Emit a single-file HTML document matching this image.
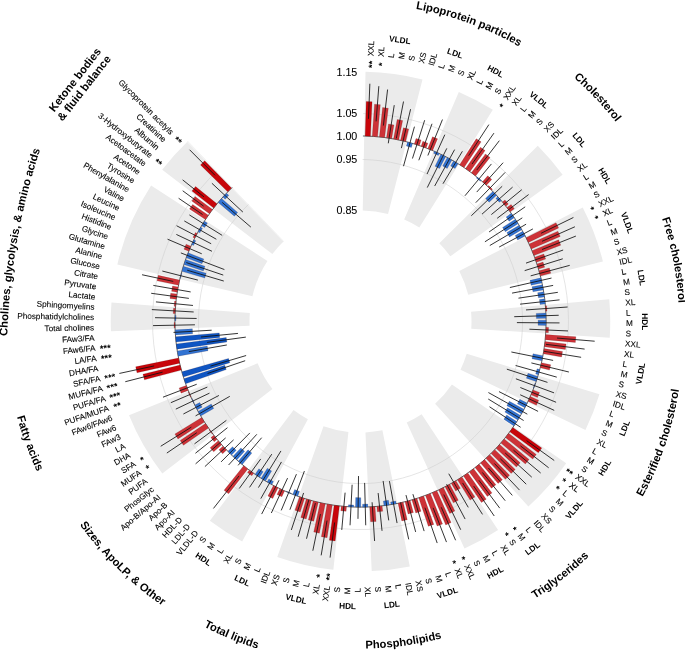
<!DOCTYPE html>
<html><head><meta charset="utf-8"><title>Circular forest plot</title>
<style>html,body{margin:0;padding:0;background:#fff}svg{display:block}text{font-family:"Liberation Sans",sans-serif;fill:#000}.l{font-size:8.2px;stroke:#000;stroke-width:0.1px}.s{font-size:8.3px;font-weight:bold}.t{font-size:11.2px;font-weight:bold}.a{font-size:10.7px;stroke:#000;stroke-width:0.08px}.st{font-size:9.4px;font-weight:bold}</style></head><body>
<svg width="685" height="650" viewBox="0 0 685 650">
<rect width="685" height="650" fill="#fff"/>
<path d="M362.73 210.57L365.51 71.85A249.75 249.75 0 0 1 422.49 79.61L388.05 214.02A111 111 0 0 0 362.73 210.57ZM404.2 219.51L458.83 91.97A249.75 249.75 0 0 1 492.84 109.75L419.32 227.41A111 111 0 0 0 404.2 219.51ZM439.29 243.36L537.78 145.63A249.75 249.75 0 0 1 562.64 174.87L450.34 256.36A111 111 0 0 0 439.29 243.36ZM459.27 270.89L582.73 207.58A249.75 249.75 0 0 1 602.9 261.42L468.24 294.83A111 111 0 0 0 459.27 270.89ZM471.06 311.65L609.26 299.27A249.75 249.75 0 0 1 609.73 337.65L471.27 328.71A111 111 0 0 0 471.06 311.65ZM466.7 353.85L599.44 394.23A249.75 249.75 0 0 1 585.48 429.98L460.5 369.74A111 111 0 0 0 466.7 353.85ZM451.93 384.5L566.21 463.18A249.75 249.75 0 0 1 528.37 506.47L435.11 403.74A111 111 0 0 0 451.93 384.5ZM421.64 414.2L498.05 530.01A249.75 249.75 0 0 1 464.49 548.62L406.72 422.47A111 111 0 0 0 421.64 414.2ZM382.41 430.37L409.8 566.39A249.75 249.75 0 0 1 371.7 571.05L365.48 432.44A111 111 0 0 0 382.41 430.37ZM348.43 431.9L333.34 569.82A249.75 249.75 0 0 1 277.28 557.03L323.51 426.21A111 111 0 0 0 348.43 431.9ZM307.91 419.31L242.18 541.49A249.75 249.75 0 0 1 209.87 520.77L293.55 410.09A111 111 0 0 0 307.91 419.31ZM272.41 389.1L162.31 473.53A249.75 249.75 0 0 1 129.03 415.34L257.62 363.24A111 111 0 0 0 272.41 389.1ZM249.58 325.86L110.94 331.25A249.75 249.75 0 0 1 111.48 302.46L249.82 313.06A111 111 0 0 0 249.58 325.86ZM252.43 296.21L117.35 264.53A249.75 249.75 0 0 1 151.11 185.42L267.44 261.05A111 111 0 0 0 252.43 296.21ZM272.36 254.07L162.19 169.73A249.75 249.75 0 0 1 187.8 141.14L283.74 241.36A111 111 0 0 0 272.36 254.07Z" fill="#ebebeb"/>
<path d="M283.32 241.77L186.85 142.04A249.75 249.75 0 0 1 187.95 140.99L283.81 241.3A111 111 0 0 0 283.32 241.77Z" fill="#f3f3f3"/>
<path d="M363.22 113.57A207.99 207.99 0 1 1 216.67 171.3M362.62 159.51A162.06 162.06 0 1 1 248.44 204.49" fill="none" stroke="#cbcbcb" stroke-width="0.5"/>
<path d="M362.93 135.97A185.6 185.6 0 1 1 232.16 187.48" fill="none" stroke="#222" stroke-width="0.7"/>
<path d="M365.14 136.01L366.23 101.42L372.08 101.65L370.44 136.22ZM512.85 427.55L541.78 447.95L538.36 452.72L509.76 431.86ZM339.4 505.95L335.18 540.89L329.36 540.14L334.14 505.27ZM181.36 370.1L144.43 379.86L142.97 374.13L180.05 364.96ZM179.63 363.18L136.98 372.71L135.72 366.84L178.51 357.99ZM213.69 208L191.96 190.98L195.54 186.49L216.99 203.85ZM227.74 191.85L200.51 164.92L204.7 160.75L231.49 188.12Z" fill="#c8050a" stroke="rgba(40,0,0,0.45)" stroke-width="0.35"/>
<path d="M372.27 136.32L374.52 104.2L380.32 104.65L377.56 136.74ZM379.39 136.91L382.58 107.49L388.32 108.16L384.65 137.53ZM386.47 137.78L388.5 124.03L393.96 124.88L391.71 138.59ZM393.52 138.91L397.16 119.45L402.68 120.53L398.72 139.93ZM400.52 140.32L403.36 127.83L408.71 129.1L405.68 141.53ZM414.32 143.93L416.01 138.48L421.15 140.12L419.37 145.54ZM421.11 146.13L422.81 141.32L427.87 143.15L426.1 147.93ZM427.81 148.59L432.49 136.78L437.59 138.85L432.73 150.58ZM459.63 164.64L476.24 138.7L481.09 141.87L464.07 167.53ZM465.59 168.57L480.39 147.31L485.05 150.61L469.91 171.63ZM471.39 172.72L485.55 153.96L490.05 157.42L475.6 175.95ZM482.5 181.68L487.73 175.76L491.77 179.39L486.44 185.22ZM487.79 186.48L488.62 185.61L492.44 189.31L491.59 190.17ZM502.49 202.03L504.95 199.98L508.34 204.12L505.85 206.13ZM506.98 207.57L511.11 204.41L514.35 208.7L510.18 211.8ZM526.06 237.67L556.04 222.72L558.61 227.96L528.39 242.43ZM529.17 244.1L557.88 231.13L560.22 236.44L531.31 248.94ZM532.02 250.64L558.61 239.84L560.74 245.19L533.97 255.57ZM534.62 257.29L543.83 253.95L545.65 259.1L536.38 262.28ZM536.96 264.03L543.06 262.08L544.66 267.24L538.53 269.09ZM539.04 270.86L549.35 268L550.77 273.28L540.42 275.97ZM545.44 305.91L546.64 305.82L547.01 311.12L545.81 311.2ZM546.01 327.31L548.61 327.4L548.37 332.74L545.77 332.6ZM545.65 334.43L575.87 336.73L575.38 342.49L545.21 339.72ZM545.02 341.54L566.08 343.96L565.39 349.56L544.37 346.8ZM544.11 348.62L562.5 351.45L561.6 356.98L543.27 353.86ZM541.49 362.65L550.74 364.81L549.46 370.11L540.24 367.8ZM533.06 389.9L539.55 392.52L537.48 397.52L531.03 394.8ZM530.3 396.48L538.69 400.25L536.42 405.2L528.09 401.3ZM508.66 433.33L536.31 454.47L532.72 459.09L505.41 437.52ZM504.25 438.95L529.07 459.47L525.32 463.92L500.84 443ZM499.63 444.39L520.21 462.78L516.35 467.03L496.07 448.31ZM494.81 449.65L515.24 469.38L511.21 473.48L491.1 453.43ZM489.78 454.72L509.58 475.36L505.39 479.31L485.93 458.35ZM484.57 459.59L502.42 479.71L498.11 483.48L480.58 463.07ZM479.17 464.26L495.92 484.66L491.47 488.26L475.05 467.59ZM473.59 468.71L491.97 492.93L487.33 496.39L469.35 471.88ZM467.85 472.95L486.2 499.17L481.41 502.47L463.49 475.96ZM461.95 476.97L474.89 497.06L470.09 500.1L457.47 479.8ZM455.9 480.75L460.38 488.33L455.67 491.06L451.32 483.41ZM449.71 484.3L458.31 500.23L453.37 502.85L445.03 486.79ZM443.39 487.61L454.85 510.95L449.7 513.43L438.61 489.91ZM436.94 490.68L451.11 522.57L445.74 524.91L432.08 492.79ZM430.38 493.49L442.54 523.96L437.11 526.07L425.44 495.42ZM423.72 496.05L433.79 524.42L428.33 526.31L418.71 497.79ZM416.96 498.35L421.02 511.33L415.74 512.94L411.89 499.89ZM410.12 500.39L413.41 512.56L408.09 513.95L405 501.74ZM403.21 502.17L407.24 519.71L401.79 520.92L398.03 503.31ZM382.13 505.88L382.73 511.25L377.37 511.8L376.86 506.43ZM375.03 506.58L376.1 521.44L370.58 521.8L369.74 506.92ZM346.51 506.62L346.12 511.31L340.77 510.82L341.23 506.15ZM332.33 505L327.1 537.68L321.35 536.72L327.1 504.12ZM325.29 503.78L319.42 533.2L313.76 532.02L320.1 502.7ZM318.31 502.29L313.76 521.25L308.32 519.9L313.17 501.01ZM311.39 500.54L306.2 519.02L300.81 517.46L306.3 499.06ZM304.55 498.52L300.21 511.93L294.97 510.19L299.52 496.85ZM284.55 490.9L281.89 496.72L277 494.44L279.74 488.66ZM278.09 487.85L272.74 498.48L267.86 495.97L273.38 485.43ZM253.59 473.26L251.84 475.7L247.51 472.56L249.3 470.15ZM247.83 469.04L228.61 493.87L224.05 490.28L243.67 465.76ZM226.56 450.03L222.64 453.75L218.97 449.81L222.95 446.16ZM221.72 444.79L213.68 451.84L210.1 447.7L218.26 440.78ZM217.09 439.36L214.21 441.69L210.87 437.5L213.78 435.22ZM212.66 433.76L212.18 434.12L209.03 429.85L209.52 429.49ZM208.46 427.99L183.44 445.27L180.19 440.48L205.48 423.61ZM204.48 422.07L177.97 438.91L174.9 433.99L201.67 417.57ZM190.92 396.97L190.46 397.18L188.37 392.29L188.83 392.1ZM188.14 390.4L181.07 393.17L179.13 388.11L186.25 385.45ZM175.01 327.84L174.11 327.87L174 322.55L174.9 322.54ZM175.07 313.57L173.17 313.48L173.48 308.16L175.38 308.28ZM175.52 306.45L174.12 306.32L174.63 301.03L176.02 301.17ZM176.23 299.35L169.98 298.55L170.71 293.2L176.94 294.09ZM177.22 292.28L171.6 291.34L172.53 286.03L178.13 287.06ZM178.48 285.25L157.03 280.83L158.22 275.31L179.59 280.07ZM188.78 251.14L183.98 249.13L186.09 244.18L190.86 246.26ZM194.69 238.15L193 237.28L195.47 232.56L197.14 233.45ZM205.4 219.62L189.5 209.03L192.65 204.39L208.37 215.23ZM209.43 213.73L191.77 200.95L195.11 196.4L212.57 209.46Z" fill="#cd3237" stroke="rgba(40,0,0,0.45)" stroke-width="0.35"/>
<path d="M406.37 146.04L407.46 141.99L412.56 143.4L411.41 147.44ZM433.53 153.32L434.41 151.3L439.25 153.48L438.32 155.48ZM435.02 166.31L440.91 154.27L445.65 156.64L439.58 168.58ZM442.69 166.03L447.28 157.49L451.93 160.03L447.2 168.5ZM450.58 165.94L453.52 160.94L458.07 163.67L455.05 168.62ZM476.34 177.95L477.03 177.09L481.11 180.48L480.4 181.32ZM485.57 198.57L492.89 191.47L496.55 195.3L489.11 202.29ZM495.86 198.39L497.79 196.66L501.3 200.63L499.34 202.33ZM506.12 216.93L511.26 213.29L514.29 217.64L509.09 221.2ZM502.58 227.47L515.31 219.17L518.17 223.63L505.31 231.73ZM506.86 232.54L519.13 225.2L521.82 229.76L509.43 236.91ZM515.17 235.5L522.72 231.37L525.23 236.03L517.62 240.04ZM529.96 280.33L540.86 277.76L542.04 282.93L531.1 285.33ZM532.01 286.76L542.41 284.73L543.39 289.93L532.95 291.81ZM537.66 292.69L543.69 291.75L544.47 296.99L538.43 297.83ZM539.44 299.43L544.7 298.81L545.28 304.08L540 304.61ZM536.21 313.42L545.9 313.03L546.07 318.33L536.37 318.56ZM538.09 320.18L546.09 320.17L546.06 325.47L538.06 325.35ZM533.02 353.74L542.94 355.66L541.89 360.86L532.01 358.78ZM537.08 368.84L539.78 369.58L538.33 374.68L535.65 373.9ZM527.98 373.33L537.8 376.44L536.16 381.48L526.39 378.21ZM535.09 383.05L535.56 383.21L533.72 388.19L533.26 388.01ZM519.77 399.23L527.29 402.96L524.9 407.69L517.44 403.83ZM509.29 401.27L524.04 409.31L521.47 413.94L506.85 405.67ZM507.49 407.75L520.55 415.53L517.8 420.06L504.86 412.08ZM506.66 415.03L516.81 421.62L513.89 426.04L503.85 419.29ZM395.75 501.12L396.23 503.68L391.02 504.62L390.57 502.06ZM388.51 500.27L389.2 504.92L383.96 505.66L383.33 501ZM367.8 504L367.9 507L362.61 507.14L362.55 504.14ZM360.81 497.65L360.77 507.15L355.47 507.08L355.67 497.58ZM353.71 505.12L353.63 507.02L348.34 506.75L348.45 504.85ZM299.54 491.44L297.79 496.23L292.82 494.37L294.65 489.61ZM291.31 493.23L291.12 493.69L286.23 491.64L286.43 491.18ZM273.45 481.5L271.76 484.56L267.14 481.96L268.88 478.93ZM271.66 470.93L265.56 481.03L261.04 478.25L267.3 468.25ZM263.18 471.66L259.5 477.26L255.09 474.31L258.86 468.77ZM251.87 453.1L242.24 464.6L238.21 461.16L248.02 449.82ZM244.61 451.34L236.83 459.95L232.93 456.36L240.85 447.88ZM236.21 450.37L231.6 455.09L227.84 451.35L232.53 446.71ZM213.77 408.39L200.73 416L198.1 411.4L211.26 404ZM202.16 407.15L197.21 409.78L194.76 405.08L199.75 402.53ZM194.39 403.22L193.94 403.44L191.67 398.65L192.13 398.44ZM208.06 350.7L178.16 356.19L177.25 350.97L207.23 345.96ZM192.65 333.83L175.39 334.97L175.08 329.68L192.36 328.81ZM176 320.72L174.9 320.71L175 315.41L176.1 315.44ZM180.5 278.4L180.01 278.28L181.32 273.14L181.81 273.27ZM204.78 277.98L181.81 271.37L183.32 266.29L206.18 273.26ZM203.34 270.96L183.87 264.54L185.57 259.52L204.94 266.25ZM202.03 263.7L186.2 257.79L188.09 252.84L203.83 259ZM193.52 245.47L191.61 244.59L193.88 239.79L195.77 240.71ZM199.86 232.86L198.02 231.84L200.65 227.23L202.47 228.29ZM204.66 227.53L201.59 225.65L204.4 221.16L207.44 223.08ZM234.41 216.21L218.16 202.44L221.62 198.42L237.65 212.45ZM225.21 199.21L222.85 197.05L226.46 193.17L228.78 195.37Z" fill="#3273d2" stroke="rgba(40,0,0,0.45)" stroke-width="0.35"/>
<path d="M226.23 369.57L185.62 383.72L183.92 378.7L224.75 365.2ZM229.84 362.74L183.36 376.95L181.85 371.87L228.55 358.4ZM226.85 341.97L176.96 349.15L176.25 343.9L226.25 337.52ZM219.7 337.5L176.04 342.08L175.53 336.8L219.26 332.92Z" fill="#0f55c3" stroke="rgba(40,0,0,0.45)" stroke-width="0.35"/>
<path d="M368.47 118.81L369.85 83.73M376.1 121.36L378.84 86.16M383.38 125.58L387.59 89.53M388.29 143.3L394.24 105.16M396.32 138.42L403.53 101.52M401.4 148.11L410.58 109.18M403.5 166.19L414.44 126.68M412.45 158.53L424.66 120.23M418.82 160.27L432.01 123.78M427.87 155.5L442.46 119.54M427.05 174.07L444.82 134.69M427.27 187.57L446.81 148.37M434.68 186.02L454.61 149.62M442.97 183.74L462.38 151.31M468.63 155.68L488.89 124.6M472.04 164.04L493.94 133.11M476.79 170.04L499.32 140.68M464.96 195.77L491.41 163.93M476.74 192.07L503.12 162.68M475.78 202.66L505.16 172.37M471.3 215.75L502.18 186.26M482.03 214.13L512.6 187.11M491.33 214.57L521.76 189.7M497.18 218.3L528.62 194.55M489.07 231.97L525.18 206.82M484.93 241.79L522.31 217.83M489.8 245.52L526.09 224.18M499.15 247.04L532.88 228.91M541.08 233.28L573.42 217.47M542.05 241.3L574.89 226.78M542.03 249.52L575.86 236.09M526 263.14L563.15 250.03M524.68 270.61L562.79 258.79M530.67 275.85L569.69 265.37M509.88 287.53L551.51 278.05M512.06 293.12L553.14 285.41M518.48 298.16L557.85 292.33M520.06 304.16L559.52 299.86M525.99 309.93L567.59 307.01M514.22 316.69L558.7 315.28M516.9 322.62L559.5 322.91M529.43 329.21L567.99 330.95M557.01 338.05L594.68 341.21M546.01 344.33L584.62 349.08M543.91 351.27L581.12 357.31M511.36 351.99L553.12 360.42M531.36 362.93L568.88 372.01M515.6 365.49L556.78 377.15M506.85 369.16L547.46 382.37M515.89 378.79L554.08 392.86M520.32 387.51L556.1 402.28M520.21 394.77L554.21 410.36M498.99 391.61L538.07 411.38M488.41 392.56L527.32 414.16M488.24 399.03L523.63 420.51M489.5 406.75L520.63 427.31M526.6 440.67L554.23 460.49M520.47 445.87L548.66 467.77M513.51 450.19L540.68 473.03M505.19 453.02L531.76 477.16M500.39 458.83L526.23 484.19M494.46 463.53L519.51 490.08M488.44 468.05L512.32 495.39M482.4 472.47L505.21 500.71M478.9 480.25L499.71 508.14M473.61 486L494.24 516M462.61 482.96L482.5 514.4M448.75 473.71L468.27 507.36M446.63 484.15L465.12 519.05M443.78 494.55L460.7 529.69M441.26 507.25L455.61 540.26M433.15 507.89L446.48 542.08M424.95 507.71L437.19 543.05M412.92 494.17L424.14 531.1M405.99 495.09L415.65 531.94M400.56 502.47L408.73 539.37M389.45 481.15L397.06 523.06M383.13 480.95L388.72 520.36M378.15 493.04L382.04 530.84M372.1 502.28L374.58 541M364.64 482.9L365.72 525.28M358.52 476.04L357.97 518.83M352.12 484.74L350.04 525.28M345.1 492.66L341.75 529.91M334.6 522.49L330.07 557.6M327.02 520.55L321.17 555.36M320.45 514.03L312.82 550.74M315.38 503.13L306.52 538.74M308.76 500.1L298.16 536.7M303.6 492.95L291.32 529.97M304.4 471.07L289.89 509.74M296.45 474.15L281.23 510.39M287.59 478.1L271.33 513M279.02 480.25L261.66 514.06M281.46 461.93L260.81 498.61M280.94 450.95L258.42 487.58M271.8 454.11L249.55 487.36M260.72 458.94L239.21 488.55M239.06 475.9L213.46 508.44M261.67 437.69L238.14 465.33M256.8 434.32L228.57 465.01M249.86 432.94L221.11 461.89M233.59 439.86L204.92 466.59M225.65 437.9L195.6 463.83M227.46 427.7L195.41 453.27M226.37 420.37L194.49 443.86M196.78 432.72L166.83 453.06M191.35 427.14L160.73 446.25M229.78 396.33L195.58 415.89M218.93 395.46L183.38 414.01M209.51 393.13L175.8 409.11M207.33 387.07L170.83 402.69M196.7 384.28L162.99 397.19M245.17 360.71L207.57 373.47M246.14 355.53L210.48 366.13M162.57 372.17L125.27 381.71M154.12 365.95L119.32 373.44M226.84 344.97L188.82 351.63M245.85 337.12L207.11 342.39M237.97 333.42L200.95 337M211.65 330.21L173.52 332.42M194.93 324.8L153.04 325.62M196.63 318.46L155.04 317.68M193.67 311.98L151.84 309.58M192.97 305.46L155.94 301.9M188.86 298.38L151.2 293.29M190.66 291.93L153.33 285.42M173.25 281.42L142.06 274.74M197.9 280.1L162.34 271.04M223.77 281.04L187.15 270.19M223.25 275.08L186.31 262.57M224.4 269.55L180.86 252.92M201.76 253.79L167.54 239.19M211.98 251.29L176.36 234.44M211.16 243.74L176.57 225.72M216.34 239.24L184.3 220.95M222.16 235.35L189.4 214.93M202.56 214.49L178.64 198.28M203.58 206.13L182.71 190.78M203.98 196.88L182.63 179.87M250.87 227.11L222.15 202.38M242.87 212.07L211.9 183.25M215.07 175.37L189.61 149.77" fill="none" stroke="#111" stroke-width="0.85"/>
<text class="a" x="357.3" y="71.8" text-anchor="end" dy="0.36em">1.15</text>
<text class="a" x="357.3" y="113.56" text-anchor="end" dy="0.36em">1.05</text>
<text class="a" x="357.3" y="135.95" text-anchor="end" dy="0.36em">1.00</text>
<text class="a" x="357.3" y="159.49" text-anchor="end" dy="0.36em">0.95</text>
<text class="a" x="357.3" y="210.55" text-anchor="end" dy="0.36em">0.85</text>
<text class="l" transform="translate(370.93 56.26) rotate(-87.75)" text-anchor="start" dy="2.55">XXL</text>
<text class="st" transform="translate(370.61 64.45) rotate(-87.75)" text-anchor="middle" dy="4.6">**</text>
<text class="l" transform="translate(381.12 56.85) rotate(-85.54)" text-anchor="start" dy="2.55">XL</text>
<text class="st" transform="translate(380.54 64.33) rotate(-85.54)" text-anchor="middle" dy="4.6">*</text>
<text class="l" transform="translate(391.29 57.84) rotate(-83.34)" text-anchor="start" dy="2.55">L</text>
<text class="l" transform="translate(401.4 59.22) rotate(-81.14)" text-anchor="start" dy="2.55">M</text>
<text class="l" transform="translate(411.46 60.99) rotate(-78.93)" text-anchor="start" dy="2.55">S</text>
<text class="l" transform="translate(421.44 63.14) rotate(-76.73)" text-anchor="start" dy="2.55">XS</text>
<text class="l" transform="translate(431.33 65.67) rotate(-74.53)" text-anchor="start" dy="2.55">IDL</text>
<text class="l" transform="translate(441.12 68.58) rotate(-72.32)" text-anchor="start" dy="2.55">L</text>
<text class="l" transform="translate(450.78 71.87) rotate(-70.12)" text-anchor="start" dy="2.55">M</text>
<text class="l" transform="translate(460.32 75.53) rotate(-67.92)" text-anchor="start" dy="2.55">S</text>
<text class="l" transform="translate(469.7 79.55) rotate(-65.71)" text-anchor="start" dy="2.55">XL</text>
<text class="l" transform="translate(478.93 83.92) rotate(-63.51)" text-anchor="start" dy="2.55">L</text>
<text class="l" transform="translate(487.97 88.65) rotate(-61.31)" text-anchor="start" dy="2.55">M</text>
<text class="l" transform="translate(496.83 93.73) rotate(-59.1)" text-anchor="start" dy="2.55">S</text>
<text class="l" transform="translate(505.49 99.14) rotate(-56.9)" text-anchor="start" dy="2.55">XXL</text>
<text class="st" transform="translate(501.4 105.42) rotate(-56.9)" text-anchor="middle" dy="4.6">*</text>
<text class="l" transform="translate(513.94 104.88) rotate(-54.7)" text-anchor="start" dy="2.55">XL</text>
<text class="l" transform="translate(522.15 110.94) rotate(-52.49)" text-anchor="start" dy="2.55">L</text>
<text class="l" transform="translate(530.13 117.31) rotate(-50.29)" text-anchor="start" dy="2.55">M</text>
<text class="l" transform="translate(537.86 123.98) rotate(-48.09)" text-anchor="start" dy="2.55">S</text>
<text class="l" transform="translate(545.33 130.95) rotate(-45.88)" text-anchor="start" dy="2.55">XS</text>
<text class="l" transform="translate(552.52 138.19) rotate(-43.68)" text-anchor="start" dy="2.55">IDL</text>
<text class="l" transform="translate(559.43 145.71) rotate(-41.47)" text-anchor="start" dy="2.55">L</text>
<text class="l" transform="translate(566.04 153.49) rotate(-39.27)" text-anchor="start" dy="2.55">M</text>
<text class="l" transform="translate(572.35 161.52) rotate(-37.07)" text-anchor="start" dy="2.55">S</text>
<text class="l" transform="translate(578.35 169.78) rotate(-34.86)" text-anchor="start" dy="2.55">XL</text>
<text class="l" transform="translate(584.02 178.27) rotate(-32.66)" text-anchor="start" dy="2.55">L</text>
<text class="l" transform="translate(589.36 186.97) rotate(-30.46)" text-anchor="start" dy="2.55">M</text>
<text class="l" transform="translate(594.37 195.87) rotate(-28.25)" text-anchor="start" dy="2.55">S</text>
<text class="l" transform="translate(599.03 204.95) rotate(-26.05)" text-anchor="start" dy="2.55">XXL</text>
<text class="st" transform="translate(592.29 208.25) rotate(-26.05)" text-anchor="middle" dy="4.6">*</text>
<text class="l" transform="translate(603.33 214.21) rotate(-23.85)" text-anchor="start" dy="2.55">XL</text>
<text class="st" transform="translate(596.47 217.24) rotate(-23.85)" text-anchor="middle" dy="4.6">*</text>
<text class="l" transform="translate(607.28 223.63) rotate(-21.64)" text-anchor="start" dy="2.55">L</text>
<text class="l" transform="translate(610.86 233.19) rotate(-19.44)" text-anchor="start" dy="2.55">M</text>
<text class="l" transform="translate(614.08 242.88) rotate(-17.24)" text-anchor="start" dy="2.55">S</text>
<text class="l" transform="translate(616.91 252.69) rotate(-15.03)" text-anchor="start" dy="2.55">XS</text>
<text class="l" transform="translate(619.37 262.6) rotate(-12.83)" text-anchor="start" dy="2.55">IDL</text>
<text class="l" transform="translate(621.45 272.59) rotate(-10.63)" text-anchor="start" dy="2.55">L</text>
<text class="l" transform="translate(623.14 282.66) rotate(-8.42)" text-anchor="start" dy="2.55">M</text>
<text class="l" transform="translate(624.44 292.79) rotate(-6.22)" text-anchor="start" dy="2.55">S</text>
<text class="l" transform="translate(625.35 302.96) rotate(-4.02)" text-anchor="start" dy="2.55">XL</text>
<text class="l" transform="translate(625.87 313.16) rotate(-1.81)" text-anchor="start" dy="2.55">L</text>
<text class="l" transform="translate(625.99 323.37) rotate(0.39)" text-anchor="start" dy="2.55">M</text>
<text class="l" transform="translate(625.73 333.57) rotate(2.6)" text-anchor="start" dy="2.55">S</text>
<text class="l" transform="translate(625.07 343.76) rotate(4.8)" text-anchor="start" dy="2.55">XXL</text>
<text class="l" transform="translate(624.02 353.92) rotate(7)" text-anchor="start" dy="2.55">XL</text>
<text class="l" transform="translate(622.58 364.02) rotate(9.21)" text-anchor="start" dy="2.55">L</text>
<text class="l" transform="translate(620.75 374.07) rotate(11.41)" text-anchor="start" dy="2.55">M</text>
<text class="l" transform="translate(618.54 384.04) rotate(13.61)" text-anchor="start" dy="2.55">S</text>
<text class="l" transform="translate(615.95 393.91) rotate(15.82)" text-anchor="start" dy="2.55">XS</text>
<text class="l" transform="translate(612.98 403.68) rotate(18.02)" text-anchor="start" dy="2.55">IDL</text>
<text class="l" transform="translate(609.63 413.33) rotate(20.22)" text-anchor="start" dy="2.55">L</text>
<text class="l" transform="translate(605.92 422.84) rotate(22.43)" text-anchor="start" dy="2.55">M</text>
<text class="l" transform="translate(601.84 432.2) rotate(24.63)" text-anchor="start" dy="2.55">S</text>
<text class="l" transform="translate(597.41 441.4) rotate(26.83)" text-anchor="start" dy="2.55">XL</text>
<text class="l" transform="translate(592.63 450.42) rotate(29.04)" text-anchor="start" dy="2.55">L</text>
<text class="l" transform="translate(587.5 459.25) rotate(31.24)" text-anchor="start" dy="2.55">M</text>
<text class="l" transform="translate(582.04 467.87) rotate(33.44)" text-anchor="start" dy="2.55">S</text>
<text class="l" transform="translate(576.25 476.28) rotate(35.65)" text-anchor="start" dy="2.55">XXL</text>
<text class="st" transform="translate(569.59 471.5) rotate(35.65)" text-anchor="middle" dy="4.6">**</text>
<text class="l" transform="translate(570.14 484.46) rotate(37.85)" text-anchor="start" dy="2.55">XL</text>
<text class="st" transform="translate(564.22 479.86) rotate(37.85)" text-anchor="middle" dy="4.6">*</text>
<text class="l" transform="translate(563.72 492.4) rotate(40.05)" text-anchor="start" dy="2.55">L</text>
<text class="st" transform="translate(557.98 487.58) rotate(40.05)" text-anchor="middle" dy="4.6">*</text>
<text class="l" transform="translate(557 500.09) rotate(42.26)" text-anchor="start" dy="2.55">M</text>
<text class="l" transform="translate(549.99 507.51) rotate(44.46)" text-anchor="start" dy="2.55">S</text>
<text class="l" transform="translate(542.7 514.66) rotate(46.67)" text-anchor="start" dy="2.55">XS</text>
<text class="l" transform="translate(535.14 521.53) rotate(48.87)" text-anchor="start" dy="2.55">IDL</text>
<text class="l" transform="translate(527.32 528.09) rotate(51.07)" text-anchor="start" dy="2.55">L</text>
<text class="l" transform="translate(519.26 534.35) rotate(53.28)" text-anchor="start" dy="2.55">M</text>
<text class="st" transform="translate(514.77 528.34) rotate(53.28)" text-anchor="middle" dy="4.6">*</text>
<text class="l" transform="translate(510.96 540.3) rotate(55.48)" text-anchor="start" dy="2.55">S</text>
<text class="st" transform="translate(506.71 534.12) rotate(55.48)" text-anchor="middle" dy="4.6">*</text>
<text class="l" transform="translate(502.44 545.92) rotate(57.68)" text-anchor="start" dy="2.55">XL</text>
<text class="l" transform="translate(493.71 551.22) rotate(59.89)" text-anchor="start" dy="2.55">L</text>
<text class="l" transform="translate(484.78 556.17) rotate(62.09)" text-anchor="start" dy="2.55">M</text>
<text class="l" transform="translate(475.66 560.77) rotate(64.29)" text-anchor="start" dy="2.55">S</text>
<text class="l" transform="translate(466.38 565.02) rotate(66.5)" text-anchor="start" dy="2.55">XXL</text>
<text class="st" transform="translate(463.39 558.15) rotate(66.5)" text-anchor="middle" dy="4.6">*</text>
<text class="l" transform="translate(456.94 568.91) rotate(68.7)" text-anchor="start" dy="2.55">XL</text>
<text class="st" transform="translate(454.22 561.93) rotate(68.7)" text-anchor="middle" dy="4.6">*</text>
<text class="l" transform="translate(447.36 572.44) rotate(70.9)" text-anchor="start" dy="2.55">L</text>
<text class="l" transform="translate(437.65 575.59) rotate(73.11)" text-anchor="start" dy="2.55">M</text>
<text class="l" transform="translate(427.82 578.37) rotate(75.31)" text-anchor="start" dy="2.55">S</text>
<text class="l" transform="translate(417.9 580.77) rotate(77.51)" text-anchor="start" dy="2.55">XS</text>
<text class="l" transform="translate(407.89 582.79) rotate(79.72)" text-anchor="start" dy="2.55">IDL</text>
<text class="l" transform="translate(397.81 584.42) rotate(81.92)" text-anchor="start" dy="2.55">L</text>
<text class="l" transform="translate(387.68 585.66) rotate(84.12)" text-anchor="start" dy="2.55">M</text>
<text class="l" transform="translate(377.5 586.51) rotate(86.33)" text-anchor="start" dy="2.55">S</text>
<text class="l" transform="translate(367.3 586.96) rotate(88.53)" text-anchor="start" dy="2.55">XL</text>
<text class="l" transform="translate(357.08 587.93) rotate(270.74)" text-anchor="end" dy="3.55">L</text>
<text class="l" transform="translate(346.84 587.6) rotate(272.94)" text-anchor="end" dy="3.55">M</text>
<text class="l" transform="translate(336.62 586.88) rotate(275.14)" text-anchor="end" dy="3.55">S</text>
<text class="l" transform="translate(326.44 585.76) rotate(277.35)" text-anchor="end" dy="3.55">XXL</text>
<text class="st" transform="translate(327.6 576.74) rotate(277.35)" text-anchor="middle" dy="5.1">**</text>
<text class="l" transform="translate(316.31 584.26) rotate(279.55)" text-anchor="end" dy="3.55">XL</text>
<text class="st" transform="translate(317.7 575.97) rotate(279.55)" text-anchor="middle" dy="5.1">*</text>
<text class="l" transform="translate(306.24 582.37) rotate(281.75)" text-anchor="end" dy="3.55">L</text>
<text class="l" transform="translate(296.25 580.09) rotate(283.96)" text-anchor="end" dy="3.55">M</text>
<text class="l" transform="translate(286.36 577.42) rotate(286.16)" text-anchor="end" dy="3.55">S</text>
<text class="l" transform="translate(276.57 574.38) rotate(288.36)" text-anchor="end" dy="3.55">XS</text>
<text class="l" transform="translate(266.91 570.97) rotate(290.57)" text-anchor="end" dy="3.55">IDL</text>
<text class="l" transform="translate(257.39 567.19) rotate(292.77)" text-anchor="end" dy="3.55">L</text>
<text class="l" transform="translate(248.03 563.04) rotate(294.97)" text-anchor="end" dy="3.55">M</text>
<text class="l" transform="translate(238.82 558.54) rotate(297.18)" text-anchor="end" dy="3.55">S</text>
<text class="l" transform="translate(229.8 553.69) rotate(299.38)" text-anchor="end" dy="3.55">XL</text>
<text class="l" transform="translate(220.97 548.49) rotate(301.58)" text-anchor="end" dy="3.55">L</text>
<text class="l" transform="translate(212.35 542.96) rotate(303.79)" text-anchor="end" dy="3.55">M</text>
<text class="l" transform="translate(203.95 537.1) rotate(305.99)" text-anchor="end" dy="3.55">S</text>
<text class="l" transform="translate(195.78 530.92) rotate(308.19)" text-anchor="end" dy="3.55">VLDL-D</text>
<text class="l" transform="translate(187.85 524.43) rotate(310.4)" text-anchor="end" dy="3.55">LDL-D</text>
<text class="l" transform="translate(180.17 517.64) rotate(312.6)" text-anchor="end" dy="3.55">HDL-D</text>
<text class="l" transform="translate(172.77 510.56) rotate(314.81)" text-anchor="end" dy="3.55">Apo-AI</text>
<text class="l" transform="translate(165.64 503.2) rotate(317.01)" text-anchor="end" dy="3.55">Apo-B</text>
<text class="l" transform="translate(158.8 495.58) rotate(319.21)" text-anchor="end" dy="3.55">Apo-B/Apo-AI</text>
<text class="l" transform="translate(152.26 487.69) rotate(321.42)" text-anchor="end" dy="3.55">PhosGlyc</text>
<text class="l" transform="translate(146.02 479.56) rotate(323.62)" text-anchor="end" dy="3.55">PUFA</text>
<text class="l" transform="translate(140.11 471.2) rotate(325.82)" text-anchor="end" dy="3.55">MUFA</text>
<text class="st" transform="translate(147.06 466.48) rotate(325.82)" text-anchor="middle" dy="5.1">*</text>
<text class="l" transform="translate(134.52 462.62) rotate(328.03)" text-anchor="end" dy="3.55">SFA</text>
<text class="st" transform="translate(141.64 458.17) rotate(328.03)" text-anchor="middle" dy="5.1">*</text>
<text class="l" transform="translate(129.26 453.82) rotate(330.23)" text-anchor="end" dy="3.55">DHA</text>
<text class="l" transform="translate(124.34 444.84) rotate(332.43)" text-anchor="end" dy="3.55">LA</text>
<text class="l" transform="translate(119.78 435.66) rotate(334.64)" text-anchor="end" dy="3.55">FAw3</text>
<text class="l" transform="translate(115.57 426.32) rotate(336.84)" text-anchor="end" dy="3.55">FAw6</text>
<text class="l" transform="translate(111.72 416.83) rotate(339.04)" text-anchor="end" dy="3.55">FAw6/FAw6</text>
<text class="l" transform="translate(108.24 407.19) rotate(341.25)" text-anchor="end" dy="3.55">PUFA/MUFA</text>
<text class="st" transform="translate(116.86 404.27) rotate(341.25)" text-anchor="middle" dy="5.1">**</text>
<text class="l" transform="translate(105.14 397.43) rotate(343.45)" text-anchor="end" dy="3.55">PUFA/FA</text>
<text class="st" transform="translate(114.53 394.64) rotate(343.45)" text-anchor="middle" dy="5.1">***</text>
<text class="l" transform="translate(102.41 387.56) rotate(345.65)" text-anchor="end" dy="3.55">MUFA/FA</text>
<text class="st" transform="translate(111.9 385.13) rotate(345.65)" text-anchor="middle" dy="5.1">***</text>
<text class="l" transform="translate(100.06 377.58) rotate(347.86)" text-anchor="end" dy="3.55">SFA/FA</text>
<text class="st" transform="translate(109.64 375.52) rotate(347.86)" text-anchor="middle" dy="5.1">***</text>
<text class="l" transform="translate(98.1 367.53) rotate(350.06)" text-anchor="end" dy="3.55">DHA/FA</text>
<text class="l" transform="translate(96.52 357.41) rotate(352.26)" text-anchor="end" dy="3.55">LA/FA</text>
<text class="st" transform="translate(106.23 356.09) rotate(352.26)" text-anchor="middle" dy="5.1">***</text>
<text class="l" transform="translate(95.34 347.23) rotate(354.47)" text-anchor="end" dy="3.55">FAw6/FA</text>
<text class="st" transform="translate(105.1 346.29) rotate(354.47)" text-anchor="middle" dy="5.1">***</text>
<text class="l" transform="translate(94.55 337.02) rotate(356.67)" text-anchor="end" dy="3.55">FAw3/FA</text>
<text class="l" transform="translate(94.15 326.78) rotate(358.88)" text-anchor="end" dy="3.55">Total cholines</text>
<text class="l" transform="translate(94.15 316.53) rotate(361.08)" text-anchor="end" dy="3.55">Phosphatidylcholines</text>
<text class="l" transform="translate(94.54 306.3) rotate(363.28)" text-anchor="end" dy="3.55">Sphingomyelins</text>
<text class="l" transform="translate(95.32 296.08) rotate(365.49)" text-anchor="end" dy="3.55">Lactate</text>
<text class="l" transform="translate(96.5 285.91) rotate(367.69)" text-anchor="end" dy="3.55">Pyruvate</text>
<text class="l" transform="translate(98.06 275.78) rotate(369.89)" text-anchor="end" dy="3.55">Citrate</text>
<text class="l" transform="translate(100.01 265.72) rotate(372.1)" text-anchor="end" dy="3.55">Glucose</text>
<text class="l" transform="translate(102.35 255.75) rotate(374.3)" text-anchor="end" dy="3.55">Alanine</text>
<text class="l" transform="translate(105.07 245.87) rotate(376.5)" text-anchor="end" dy="3.55">Glutamine</text>
<text class="l" transform="translate(108.17 236.11) rotate(378.71)" text-anchor="end" dy="3.55">Glycine</text>
<text class="l" transform="translate(111.64 226.47) rotate(380.91)" text-anchor="end" dy="3.55">Histidine</text>
<text class="l" transform="translate(115.48 216.97) rotate(383.11)" text-anchor="end" dy="3.55">Isoleucine</text>
<text class="l" transform="translate(119.69 207.63) rotate(385.32)" text-anchor="end" dy="3.55">Leucine</text>
<text class="l" transform="translate(124.24 198.45) rotate(387.52)" text-anchor="end" dy="3.55">Valine</text>
<text class="l" transform="translate(129.15 189.46) rotate(389.72)" text-anchor="end" dy="3.55">Phenylalanine</text>
<text class="l" transform="translate(134.4 180.66) rotate(391.93)" text-anchor="end" dy="3.55">Tyrosine</text>
<text class="l" transform="translate(139.99 172.08) rotate(394.13)" text-anchor="end" dy="3.55">Acetone</text>
<text class="l" transform="translate(145.9 163.71) rotate(396.33)" text-anchor="end" dy="3.55">Acetoacetate</text>
<text class="l" transform="translate(152.12 155.57) rotate(398.54)" text-anchor="end" dy="3.55">3-Hydroxybutyrate</text>
<text class="st" transform="translate(159.24 161.24) rotate(398.54)" text-anchor="middle" dy="5.1">**</text>
<text class="l" transform="translate(158.66 147.68) rotate(400.74)" text-anchor="end" dy="3.55">Albumin</text>
<text class="l" transform="translate(165.49 140.05) rotate(402.95)" text-anchor="end" dy="3.55">Creatinine</text>
<text class="l" transform="translate(172.62 132.69) rotate(405.15)" text-anchor="end" dy="3.55">Glycoprotein acetyls</text>
<text class="st" transform="translate(179.03 139.14) rotate(405.15)" text-anchor="middle" dy="5.1">**</text>
<text class="s" transform="translate(400.01 39.71) rotate(7.98)" text-anchor="middle" dy="0.36em">VLDL</text>
<text class="s" transform="translate(455.22 53.17) rotate(19.44)" text-anchor="middle" dy="0.36em">LDL</text>
<text class="s" transform="translate(495.7 71.12) rotate(28.36)" text-anchor="middle" dy="0.36em">HDL</text>
<text class="s" transform="translate(538.95 99.84) rotate(38.83)" text-anchor="middle" dy="0.36em">VLDL</text>
<text class="s" transform="translate(579.43 139.71) rotate(50.29)" text-anchor="middle" dy="0.36em">LDL</text>
<text class="s" transform="translate(604.99 175.87) rotate(59.21)" text-anchor="middle" dy="0.36em">HDL</text>
<text class="s" transform="translate(627.39 222.71) rotate(69.68)" text-anchor="middle" dy="0.36em">VLDL</text>
<text class="s" transform="translate(641.7 277.7) rotate(81.14)" text-anchor="middle" dy="0.36em">LDL</text>
<text class="s" transform="translate(645.1 321.85) rotate(90.06)" text-anchor="middle" dy="0.36em">HDL</text>
<text class="s" transform="translate(640.31 373.55) rotate(280.53)" text-anchor="middle" dy="0.36em">VLDL</text>
<text class="s" transform="translate(624.4 428.1) rotate(291.99)" text-anchor="middle" dy="0.36em">LDL</text>
<text class="s" transform="translate(604.68 467.75) rotate(300.91)" text-anchor="middle" dy="0.36em">HDL</text>
<text class="s" transform="translate(574.06 509.67) rotate(311.38)" text-anchor="middle" dy="0.36em">VLDL</text>
<text class="s" transform="translate(532.43 548.35) rotate(322.84)" text-anchor="middle" dy="0.36em">LDL</text>
<text class="s" transform="translate(495.17 572.27) rotate(331.76)" text-anchor="middle" dy="0.36em">HDL</text>
<text class="s" transform="translate(447.38 592.57) rotate(342.23)" text-anchor="middle" dy="0.36em">VLDL</text>
<text class="s" transform="translate(391.81 604.42) rotate(353.68)" text-anchor="middle" dy="0.36em">LDL</text>
<text class="s" transform="translate(347.55 605.86) rotate(362.61)" text-anchor="middle" dy="0.36em">HDL</text>
<text class="s" transform="translate(296.12 598.77) rotate(373.07)" text-anchor="middle" dy="0.36em">VLDL</text>
<text class="s" transform="translate(242.33 580.46) rotate(384.53)" text-anchor="middle" dy="0.36em">LDL</text>
<text class="s" transform="translate(203.6 558.99) rotate(393.46)" text-anchor="middle" dy="0.36em">HDL</text>
<defs><path id="tp0" d="M156.41 78.33A317.5 317.5 0 0 1 673.18 266.42"/><path id="tp1" d="M285.41 6.37A324 324 0 0 1 671 414.11"/><path id="tp2" d="M463.67 20.22A318.5 318.5 0 0 1 569.87 561.56"/><path id="tp3" d="M238.91 625.54A327.4 327.4 0 0 0 684.55 274.85"/><path id="tp4" d="M101.6 521.29A327 327 0 0 0 662.94 445.9"/><path id="tp5" d="M20.55 367.21A343 343 0 0 0 570.02 593.12"/><path id="tp6" d="M25.04 234.79A346.5 346.5 0 0 0 453.1 655.45"/><path id="tp7" d="M86.61 93.35A356.5 356.5 0 0 0 299.82 672.85"/><path id="tpc" d="M8.56 404.11A667.73 667.73 0 0 1 64.66 85.95"/><path id="tpe" d="M591.67 566.68A328.98 328.98 0 0 0 680.77 303.29"/></defs>
<text class="t" text-anchor="middle"><textPath href="#tp0" startOffset="50%">Lipoprotein particles</textPath></text>
<text class="t" text-anchor="middle"><textPath href="#tp1" startOffset="50%">Cholesterol</textPath></text>
<text class="t" text-anchor="middle"><textPath href="#tp2" startOffset="50%">Free cholesterol</textPath></text>
<text class="t" text-anchor="middle"><textPath href="#tp3" startOffset="50%">Triglycerides</textPath></text>
<text class="t" text-anchor="middle"><textPath href="#tp4" startOffset="50%">Phospholipids</textPath></text>
<text class="t" text-anchor="middle"><textPath href="#tp5" startOffset="50%">Total lipids</textPath></text>
<text class="t" text-anchor="middle"><textPath href="#tp6" startOffset="50%">Sizes, ApoLP, &amp; Other</textPath></text>
<text class="t" text-anchor="middle"><textPath href="#tp7" startOffset="50%">Fatty acids</textPath></text>
<text class="t" text-anchor="middle"><textPath href="#tpc" startOffset="50%">Cholines, glycolysis, &amp; amino acids</textPath></text>
<text class="t" text-anchor="middle" transform="translate(75.5 80.2) rotate(-52)" dy="0.27em">Ketone bodies</text>
<text class="t" text-anchor="middle" transform="translate(84.6 88.6) rotate(-52)" dy="0.27em">&amp; fluid balance</text>
<text class="t" text-anchor="middle"><textPath href="#tpe" startOffset="50%">Esterified cholesterol</textPath></text>
</svg></body></html>
